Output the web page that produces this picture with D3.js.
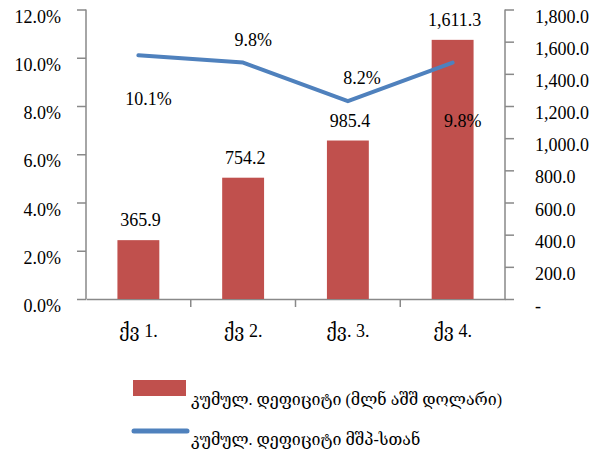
<!DOCTYPE html>
<html>
<head>
<meta charset="utf-8">
<script src="https://cdn.jsdelivr.net/npm/d3@7"></script>
<style>
  body { margin: 0; background: white; }
  text { font-family: "Liberation Serif", "DejaVu Serif", serif; fill: #000; }
</style>
</head>
<body>
<div id="viz-container"></div>
<script>
// data
let quarters = ["ქვ 1.", "ქვ 2.", "ქვ. 3.", "ქვ 4."];
let deficitValues = [365.9, 754.2, 985.4, 1611.3];   // mln USD, right axis
let gdpShare = [10.1, 9.8, 8.2, 9.8];                 // %, left axis
let leftTicks = [0, 2, 4, 6, 8, 10, 12];
let rightTicks = [0, 200, 400, 600, 800, 1000, 1200, 1400, 1600, 1800];
let legendLabels = ["კუმულ. დეფიციტი (მლნ აშშ დოლარი)", "კუმულ. დეფიციტი მშპ-სთან"];

let w = 595;
let h = 453;
let plotLeft = 86, plotRight = 505, plotTop = 9.5, plotBottom = 299;

let viz = d3.select("#viz-container")
  .append("svg")
    .attr("width", w)
    .attr("height", h)
    .style("background-color", "white");

let x = d3.scaleBand().domain(quarters).range([plotLeft, plotRight]);
let yLeft = d3.scaleLinear().domain([0, 12]).range([plotBottom, plotTop]);
let yRight = d3.scaleLinear().domain([0, 1800]).range([plotBottom, plotTop]);

let axisColor = "#898989";

// left axis
let leftAxis = viz.append("g")
  .attr("transform", "translate(" + plotLeft + ",0)")
  .call(d3.axisLeft(yLeft).tickValues(leftTicks).tickSize(9).tickPadding(16)
    .tickFormat(d => d.toFixed(1) + "%"));

// right axis
let rightAxis = viz.append("g")
  .attr("transform", "translate(" + plotRight + ",0)")
  .call(d3.axisRight(yRight).tickValues(rightTicks).tickSize(9).tickPadding(21)
    .tickFormat(d => d == 0 ? "-" : d3.format(",.1f")(d)));

// bottom axis line + category ticks at band edges
let xAxis = viz.append("g")
  .attr("transform", "translate(0," + plotBottom + ")")
  .call(d3.axisBottom(x).tickSize(0).tickPadding(38));

[leftAxis, rightAxis, xAxis].forEach(function(g){
  g.select(".domain").attr("stroke", axisColor).attr("stroke-width", 1.5);
  g.selectAll(".tick line").attr("stroke", axisColor).attr("stroke-width", 1.5);
  g.selectAll(".tick text")
    .style("font-family", '"Liberation Serif", "DejaVu Serif", serif')
    .style("font-size", "18px")
    .attr("fill", "#000");
});
leftAxis.selectAll(".tick text").attr("dy", "0.7em");
rightAxis.selectAll(".tick text").attr("dy", "0.7em");
xAxis.selectAll(".tick text").attr("dy", "0");
// the domain paths include outer ticks we don't want
leftAxis.select(".domain").attr("d", "M0," + plotTop + "V" + plotBottom);
rightAxis.select(".domain").attr("d", "M0," + plotTop + "V" + plotBottom);

xAxis.selectAll(".edge")
  .data(quarters.slice(1))
  .enter()
  .append("line")
    .attr("x1", d => x(d))
    .attr("x2", d => x(d))
    .attr("y1", 0)
    .attr("y2", 8)
    .attr("stroke", axisColor)
    .attr("stroke-width", 1.5);

// bars
let barW = x.bandwidth() * 0.4;
let bars = viz.selectAll(".bar").data(deficitValues).enter()
  .append("g").attr("class", "bar");

bars.append("rect")
  .attr("x", (d, i) => x(quarters[i]) + (x.bandwidth() - barW) / 2)
  .attr("y", d => yRight(d))
  .attr("width", barW)
  .attr("height", d => plotBottom - yRight(d))
  .attr("fill", "#C0504D");

bars.append("text")
  .attr("x", (d, i) => x(quarters[i]) + x.bandwidth() / 2 + 2)
  .attr("y", d => yRight(d) - 14)
  .attr("text-anchor", "middle")
  .style("font-size", "18px")
  .text(d => d3.format(",.1f")(d));

// line
let lineGen = d3.line()
  .x((d, i) => x(quarters[i]) + x.bandwidth() / 2)
  .y(d => yLeft(d));

viz.append("path")
  .datum(gdpShare)
  .attr("d", lineGen)
  .attr("fill", "none")
  .attr("stroke", "#4F81BD")
  .attr("stroke-width", 4)
  .attr("stroke-linejoin", "round")
  .attr("stroke-linecap", "round");

// line labels sit in odd places in the original
let lineLabelShift = [[10, 50], [10, -17], [14, -17], [10, 64]];
viz.selectAll(".linelabel").data(gdpShare).enter()
  .append("text")
    .attr("x", (d, i) => x(quarters[i]) + x.bandwidth() / 2 + lineLabelShift[i][0])
    .attr("y", (d, i) => yLeft(d) + lineLabelShift[i][1])
    .attr("text-anchor", "middle")
    .style("font-size", "18px")
    .text(d => d.toFixed(1) + "%");

// legend
let legend = viz.append("g");
legend.append("rect")
  .attr("x", 133).attr("y", 380)
  .attr("width", 53).attr("height", 16)
  .attr("fill", "#C0504D");
legend.append("line")
  .attr("x1", 134).attr("x2", 187)
  .attr("y1", 431).attr("y2", 431)
  .attr("stroke", "#4F81BD")
  .attr("stroke-width", 5)
  .attr("stroke-linecap", "round");
legend.selectAll(".legtext").data(legendLabels).enter()
  .append("text")
    .attr("x", 191)
    .attr("y", (d, i) => 405 + i * 40)
    .style("font-size", "16px")
    .text(d => d);
</script>
</body>
</html>
